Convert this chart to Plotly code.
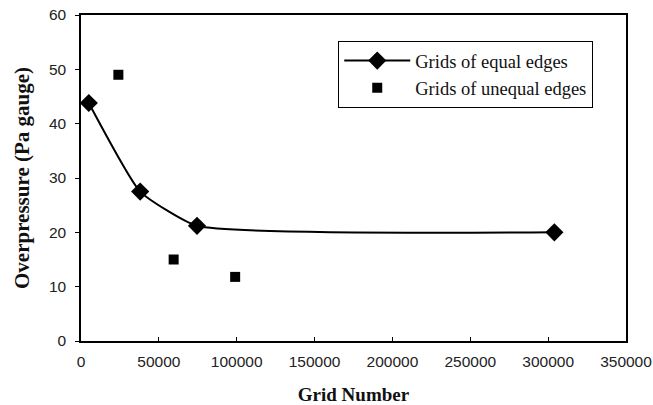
import plotly.graph_objects as go

equal_x = [5000, 38000, 74500, 304000]
equal_y = [43.8, 27.5, 21.2, 20.0]
unequal_x = [24000, 59500, 99000]
unequal_y = [49.0, 15.0, 11.8]

x_ticks = [0, 50000, 100000, 150000, 200000, 250000, 300000, 350000]
y_ticks = [0, 10, 20, 30, 40, 50, 60]

fig = go.Figure()
fig.add_trace(go.Scatter(
    x=equal_x, y=equal_y, mode="lines+markers", name="Grids of equal edges",
    line=dict(color="black", width=2, shape="spline", smoothing=0.45),
    marker=dict(symbol="diamond", size=14, color="black"),
))
fig.add_trace(go.Scatter(
    x=unequal_x, y=unequal_y, mode="markers", name="Grids of unequal edges",
    marker=dict(symbol="square", size=10, color="black"),
))

axis_common = dict(
    showgrid=False, zeroline=False, showline=True, linecolor="black", linewidth=1.5,
    mirror=True, tickcolor="black", ticklen=4, ticklabelstandoff=6, automargin=False,
    tickfont=dict(family="Liberation Sans, Arial", size=15.5, color="#222"),
)
fig.update_xaxes(range=[0, 350000], tickvals=x_ticks, ticktext=[str(v) for v in x_ticks],
                 ticks="inside", ticklabeloverflow="allow",
                 title=dict(text="<b>Grid Number</b>", font=dict(family="Liberation Serif, Times New Roman", size=19, color="#111"), standoff=18),
                 **axis_common)
fig.update_yaxes(range=[0, 60], tickvals=y_ticks, ticks="outside",
                 title=dict(text="<b>Overpressure (Pa gauge)</b>", font=dict(family="Liberation Serif, Times New Roman", size=21, color="#111"), standoff=14),
                 **axis_common)

fig.update_layout(
    width=653, height=405,
    margin=dict(l=81, r=27, t=15, b=64),
    paper_bgcolor="white", plot_bgcolor="white",
    legend=dict(x=0.472, y=0.92, xanchor="left", yanchor="top",
                bordercolor="black", borderwidth=1, bgcolor="white",
                itemwidth=66,
                font=dict(family="Liberation Serif, Times New Roman", size=18.5, color="#111"),
                tracegroupgap=0),
)
fig.write_html("out.html")
